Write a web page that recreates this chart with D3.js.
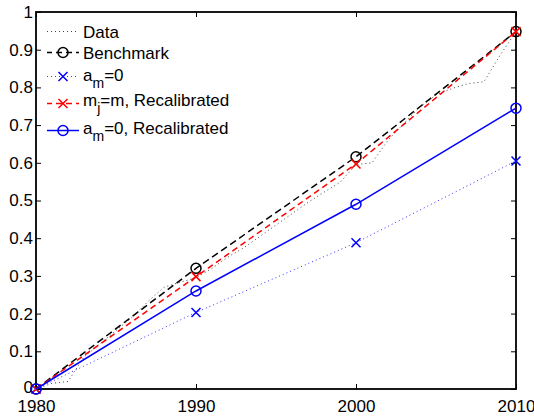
<!DOCTYPE html>
<html>
<head>
<meta charset="utf-8">
<script src="https://cdn.jsdelivr.net/npm/d3@7"></script>
<style>
  html, body { margin: 0; padding: 0; background: #fff; }
  svg { display: block; }
  text { font-family: "Liberation Sans", Arial, Helvetica, sans-serif; fill: #000; }
</style>
</head>
<body>
<svg id="chart" width="534" height="417"></svg>
<script>
// ---- data ----
const dataYears = d3.range(1980, 2011);
const dataValues = [0, 0.015, 0.02, 0.085, 0.12, 0.155, 0.19, 0.232, 0.27, 0.283,
  0.295, 0.32, 0.35, 0.375, 0.405, 0.435, 0.465, 0.495, 0.522, 0.548,
  0.595, 0.60, 0.66, 0.705, 0.748, 0.78, 0.797, 0.81, 0.815, 0.885, 0.948];
const modelYears = [1980, 1990, 2000, 2010];
const benchmark = [0, 0.320, 0.616, 0.948];
const amZero = [0, 0.203, 0.388, 0.605];
const mjRecal = [0, 0.298, 0.597, 0.948];
const amZeroRecal = [0, 0.260, 0.490, 0.745];
const xTicks = [1980, 1990, 2000, 2010];
const yTicks = [0, 0.1, 0.2, 0.3, 0.4, 0.5, 0.6, 0.7, 0.8, 0.9, 1];

const svg = d3.select("#chart");
const x = d3.scaleLinear().domain([1980, 2010]).range([36, 516]);
const y = d3.scaleLinear().domain([0, 1]).range([389, 12]);

// box
svg.append("rect").attr("x", 36).attr("y", 12).attr("width", 480).attr("height", 377)
  .attr("fill", "none").attr("stroke", "#000").attr("stroke-width", 1.8);

// axes
const fmtY = d => d === 0 ? "0" : d === 1 ? "1" : d3.format(".1f")(d);
const axL = svg.append("g").attr("transform", "translate(36,0)")
  .call(d3.axisLeft(y).tickValues(yTicks).tickFormat(fmtY).tickSizeInner(-5).tickSizeOuter(0).tickPadding(8));
const axR = svg.append("g").attr("transform", "translate(516,0)")
  .call(d3.axisRight(y).tickValues(yTicks).tickFormat("").tickSizeInner(-5).tickSizeOuter(0));
const axB = svg.append("g").attr("transform", "translate(0,389)")
  .call(d3.axisBottom(x).tickValues(xTicks).tickFormat(d3.format("d")).tickSizeInner(-5).tickSizeOuter(0).tickPadding(11));
const axT = svg.append("g").attr("transform", "translate(0,12)")
  .call(d3.axisTop(x).tickValues(xTicks).tickFormat("").tickSizeInner(-5).tickSizeOuter(0));
[axL, axR, axB, axT].forEach(g => {
  g.select(".domain").remove();
  g.selectAll(".tick line").attr("stroke", "#000").attr("stroke-width", 1);
  g.selectAll("text").attr("font-size", 17).attr("fill", "#000")
    .style("font-family", '"Liberation Sans", Arial, Helvetica, sans-serif');
});
axL.selectAll("text").attr("x", -3);
axL.selectAll(".tick").filter(d => d === 0).select("text").attr("dy", "0.2em");

// series
const series = [
  {name: "Data", xs: dataYears, ys: dataValues, color: "#444", width: 1, dash: "1,3", marker: null},
  {name: "Benchmark", xs: modelYears, ys: benchmark, color: "#000", width: 1.5, dash: "7,4", marker: "o"},
  {name: "am0", xs: modelYears, ys: amZero, color: "#3333ff", width: 1, dash: "1,3", marker: "x"},
  {name: "mj", xs: modelYears, ys: mjRecal, color: "#ff0000", width: 1.5, dash: "6,4", marker: "x"},
  {name: "am0r", xs: modelYears, ys: amZeroRecal, color: "#0000ff", width: 1.5, dash: null, marker: "o"}
];
const markerColor = {Benchmark: "#000", am0: "#0000ff", mj: "#ff0000", am0r: "#0000ff"};
const line = d3.line().x(d => x(d[0])).y(d => y(d[1]));

function drawMarker(g, type, cx, cy, color) {
  if (type === "o") {
    g.append("circle").attr("cx", cx).attr("cy", cy).attr("r", 5)
      .attr("fill", "none").attr("stroke", color).attr("stroke-width", 1.5);
  } else if (type === "x") {
    const s = 4.5;
    g.append("path").attr("d", `M${cx - s},${cy - s}L${cx + s},${cy + s}M${cx - s},${cy + s}L${cx + s},${cy - s}`)
      .attr("stroke", color).attr("stroke-width", 1.5).attr("fill", "none");
  }
}

const plot = svg.append("g");
series.forEach(s => {
  const pts = s.xs.map((v, i) => [v, s.ys[i]]);
  plot.append("path").attr("d", line(pts)).attr("fill", "none")
    .attr("stroke", s.color).attr("stroke-width", s.width)
    .attr("stroke-dasharray", s.dash);
  if (s.marker) pts.forEach(p => drawMarker(plot, s.marker, x(p[0]), y(p[1]), markerColor[s.name]));
});

// legend
const leg = svg.append("g");
const legRows = [
  {s: series[0], ly: 31.5, ty: 38, label: [["Data"]]},
  {s: series[1], ly: 52.5, ty: 59, label: [["Benchmark"]]},
  {s: series[2], ly: 76.5, ty: 80.5, label: [["a"], ["m", "sub"], ["=0"]]},
  {s: series[3], ly: 103.5, ty: 105.5, label: [["m"], ["j", "sub"], ["=m, Recalibrated"]]},
  {s: series[4], ly: 130.5, ty: 133.5, label: [["a"], ["m", "sub"], ["=0, Recalibrated"]]}
];
legRows.forEach(r => {
  leg.append("line").attr("x1", 47).attr("x2", 79).attr("y1", r.ly).attr("y2", r.ly)
    .attr("stroke", r.s.color).attr("stroke-width", r.s.width)
    .attr("stroke-dasharray", r.s.dash ? (r.s.dash === "1,3" ? "1,3" : "6,4") : null)
    .attr("stroke-dashoffset", r.s.dash && r.s.dash !== "1,3" ? 1 : 0);
  if (r.s.marker) drawMarker(leg, r.s.marker, 63, r.ly, markerColor[r.s.name]);
  const t = leg.append("text").attr("x", 83).attr("y", r.ty).attr("font-size", 17);
  let shifted = false;
  r.label.forEach(part => {
    const ts = t.append("tspan").text(part[0]);
    if (part[1] === "sub") { ts.attr("dy", 7).attr("font-size", 14); shifted = true; }
    else if (shifted) { ts.attr("dy", -7); shifted = false; }
  });
});
</script>
</body>
</html>
